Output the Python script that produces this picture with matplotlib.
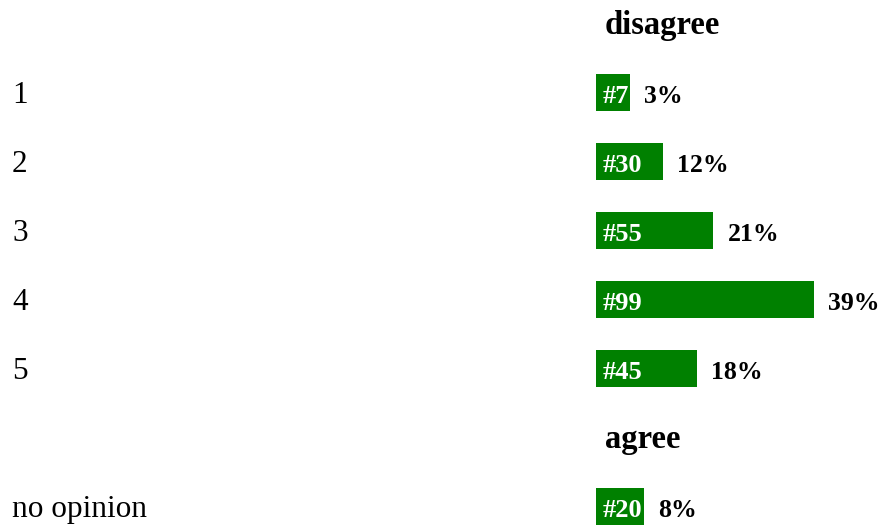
"""
Likert-style response chart: green bars with counts and percentages.
"""

import matplotlib

matplotlib.use("Agg")
import matplotlib.pyplot as plt  # noqa: E402
from matplotlib.transforms import blended_transform_factory, offset_copy  # noqa: E402

TOP_LABEL = "disagree"
BOTTOM_LABEL = "agree"
ROW_LABELS = ["1", "2", "3", "4", "5"]
COUNTS = [7, 30, 55, 99, 45]
PCTS = [3, 12, 21, 39, 18]
EXTRA_LABEL = "no opinion"
EXTRA_COUNT = 20
EXTRA_PCT = 8

GREEN = "#008000"
FONT = "Liberation Serif"
W, H = 883, 526
BAR_LEFT = 596
PX_PER_PCT = 5.59
ROW_PX = 69
FIRST_ROW_PX = 23.5
BASE_DROP = -10.5  # baseline sits this many px below the row centre

plt.rcParams["font.family"] = [FONT, "DejaVu Serif"]

fig = plt.figure(figsize=(W / 100, H / 100), dpi=100)
ax = fig.add_axes([BAR_LEFT / W, 0, 1 - BAR_LEFT / W, 1])
ax.set_xlim(0, (W - BAR_LEFT) / PX_PER_PCT)
ax.set_ylim((H - FIRST_ROW_PX) / ROW_PX, -FIRST_ROW_PX / ROW_PX)
ax.axis("off")

label_tr = offset_copy(blended_transform_factory(fig.transFigure, ax.transData),
                       fig, y=BASE_DROP, units="dots")
renderer = fig.canvas.get_renderer()


def shifted(dx):
    return offset_copy(ax.transData, fig, x=dx, y=BASE_DROP, units="dots")


def draw_row(y, label, count, pct):
    ax.text(12 / W, y, label, transform=label_tr, fontsize=22.5,
            va="baseline", ha="left")
    t = ax.text(0, y, f"#{count}", color="white", fontweight="bold",
                fontsize=19, va="baseline", ha="left", zorder=3,
                transform=shifted(7))
    # bar grows with pct but never narrower than its count label
    text_right = t.get_window_extent(renderer).x1 + 1
    bar_right = max(ax.transData.transform((pct, 0))[0], text_right)
    width = ax.transData.inverted().transform((bar_right, 0))[0]
    ax.barh(y, width, height=0.54, left=0, color=GREEN, zorder=2)
    ax.text(width, y, f"{pct}%", fontweight="bold", fontsize=18.5,
            va="baseline", ha="left", transform=shifted(14))


def draw_header(y, text):
    ax.text(0, y, text, fontweight="bold", fontsize=23.5, va="baseline",
            ha="left", transform=shifted(9))


draw_header(0, TOP_LABEL)
for i, (lab, c, p) in enumerate(zip(ROW_LABELS, COUNTS, PCTS)):
    draw_row(i + 1, lab, c, p)
draw_header(len(ROW_LABELS) + 1, BOTTOM_LABEL)
draw_row(len(ROW_LABELS) + 2, EXTRA_LABEL, EXTRA_COUNT, EXTRA_PCT)

fig.savefig("out.png", dpi=100)
plt.close(fig)
